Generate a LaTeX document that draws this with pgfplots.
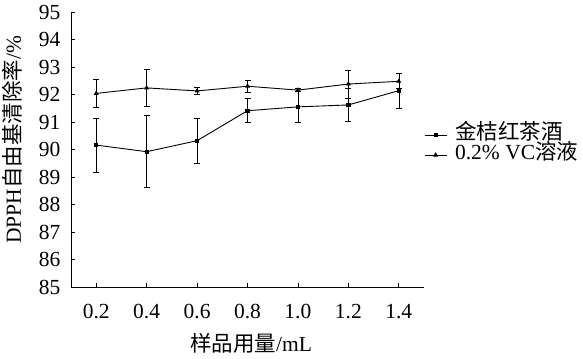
\documentclass[border=0pt]{standalone}
\usepackage{pgfplots}
\pgfplotsset{compat=1.18}
\usepackage{fontspec}
\setmainfont{Liberation Serif}
\newfontfamily\cjk{Noto Sans CJK SC}
\newcommand{\fs}{\fontsize{21.5bp}{24bp}\selectfont}
\begin{document}
\begin{tikzpicture}
\useasboundingbox (-71bp,-72bp) rectangle (512bp,287bp);
\begin{axis}[
  at={(0,0)}, anchor=south west,
  width=353bp, height=275bp, scale only axis,
  xmin=0.1, xmax=1.5, ymin=85, ymax=95,
  xtick={0.2,0.4,0.6,0.8,1.0,1.2,1.4},
  ytick={85,86,87,88,89,90,91,92,93,94,95},
  xticklabel={\pgfmathprintnumber[fixed, fixed zerofill, precision=1]{\tick}},
  /pgf/number format/assume math mode=true,
  axis x line*=bottom, axis y line*=left,
  axis line style={line width=1pt, -},
  tick align=inside, major tick length=4bp,
  tick style={black, line width=0.8pt},
  tick label style={font=\fs},
  yticklabel style={xshift=-7bp},
  xticklabel style={yshift=-14bp},
  label style={font=\fs},
  xlabel={{\cjk 样品用量}/mL},
  ylabel={DPPH{\cjk 自由基清除率}/\%},
  xlabel style={at={(axis description cs:0.51,-0.206)}, anchor=center},
  ylabel style={at={(axis description cs:-0.165,0.536)}, anchor=center},
  legend style={draw=none, fill=none, at={(1.0,0.516)}, anchor=west,
    font=\fs, row sep=0bp, inner sep=0bp, column sep=7bp,
    nodes={inner xsep=1bp, inner ysep=0bp, text height=14bp, text depth=6bp}},
  legend cell align=left,
  legend image code/.code={\draw[mark repeat=2,mark phase=2,#1] plot coordinates {(0bp,0bp)(11bp,0bp)(22bp,0bp)};},
  error bars/error mark options={rotate=90, mark size=3bp, line width=0.9pt, black},
]
\addplot[black, line width=0.9pt, mark=square*, mark size=1.6bp, mark options={solid, fill=black},
  error bars/.cd, y dir=both, y explicit]
  coordinates {
  (0.2,90.16) +- (0,0.98)
  (0.4,89.92) +- (0,1.31)
  (0.6,90.32) +- (0,0.82)
  (0.8,91.41) +- (0,0.44)
  (1.0,91.55) +- (0,0.57)
  (1.2,91.62) +- (0,0.60)
  (1.4,92.14) +- (0,0.64)
  };
\addlegendentry{{\cjk 金桔红茶酒}}
\addplot[black, line width=0.9pt, mark=triangle*, mark size=2bp, mark options={solid, fill=black},
  error bars/.cd, y dir=both, y explicit]
  coordinates {
  (0.2,92.04) +- (0,0.50)
  (0.4,92.24) +- (0,0.66)
  (0.6,92.13) +- (0,0.13)
  (0.8,92.30) +- (0,0.21)
  (1.0,92.16) +- (0,0.05)
  (1.2,92.38) +- (0,0.51)
  (1.4,92.48) +- (0,0.27)
  };
\addlegendentry{0.2\% VC{\cjk 溶液}}
\end{axis}
\end{tikzpicture}
\end{document}
